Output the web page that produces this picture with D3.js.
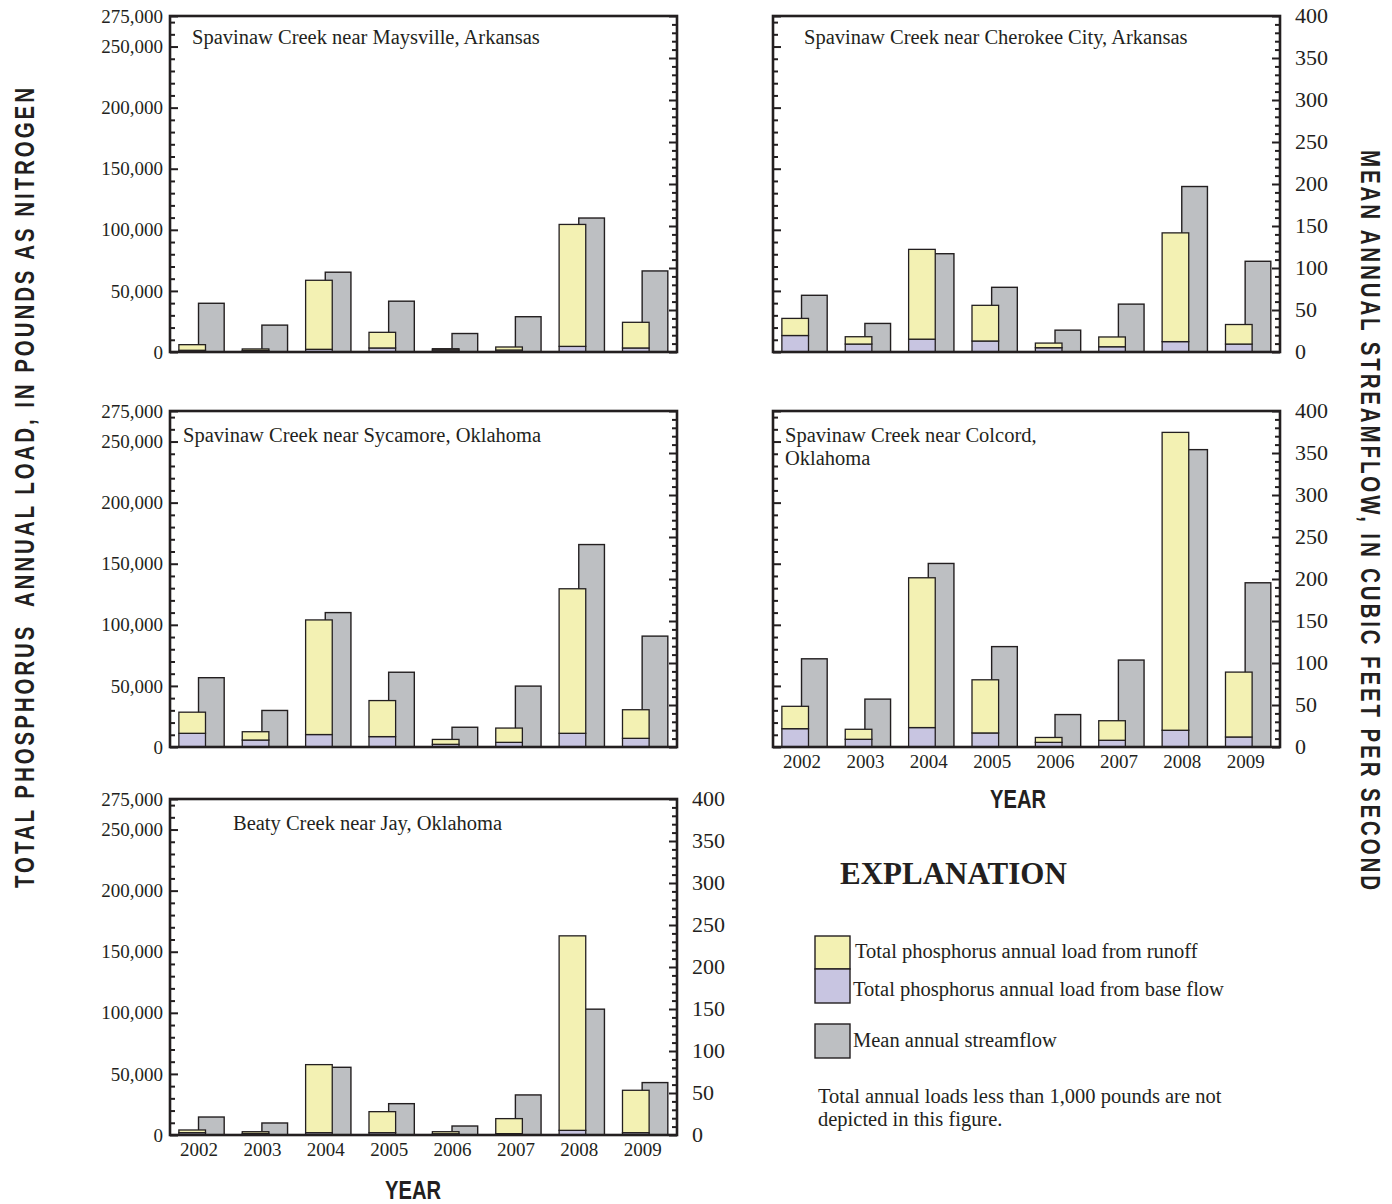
<!DOCTYPE html>
<html>
<head>
<meta charset="utf-8">
<script src="https://cdn.jsdelivr.net/npm/d3@7"></script>
<style>
  body { margin: 0; background: #fff; }
  svg { display: block; }
</style>
</head>
<body>
<svg id="fig" width="1392" height="1204"></svg>
<script>
// ---- data -------------------------------------------------------------
const years = ["2002", "2003", "2004", "2005", "2006", "2007", "2008", "2009"];

const loadTicks = [0, 50000, 100000, 150000, 200000, 250000, 275000];
const flowTicks = [0, 50, 100, 150, 200, 250, 300, 350, 400];

// Total phosphorus annual load (pounds) from base flow and from runoff,
// mean annual streamflow (cubic feet per second)
const maysvilleBase   = [1400, 1200, 2200, 3300, 1600, 1600, 4600, 3300];
const maysvilleRunoff = [4600, 1300, 56500, 12800, 1100, 2500, 99800, 21000];
const maysvilleFlow   = [58, 32, 95, 60.5, 22, 42, 159.5, 96.5];

const cherokeeBase   = [13500, 6500, 10500, 9000, 3500, 4300, 8500, 6500];
const cherokeeRunoff = [14000, 6000, 73500, 29200, 3800, 8000, 89000, 16000];
const cherokeeFlow   = [67.5, 34, 117, 77, 26, 57, 197, 108];

const sycamoreBase   = [11200, 5700, 10200, 8500, 2200, 3800, 11200, 7100];
const sycamoreRunoff = [17300, 6800, 93800, 29500, 4000, 11700, 118300, 23400];
const sycamoreFlow   = [82.5, 43.5, 160, 89, 23.5, 72.5, 241, 132];

const colcordBase   = [15000, 6300, 15900, 11500, 3800, 5500, 13700, 8200];
const colcordRunoff = [18300, 8200, 122600, 43500, 4000, 16000, 243800, 53100];
const colcordFlow   = [105, 57, 218.5, 119.5, 38.6, 103.5, 354, 195.5];

const beatyBase   = [1900, 1200, 1900, 1900, 1000, 1100, 3800, 1900];
const beatyRunoff = [2200, 1500, 55700, 17200, 1700, 12300, 159200, 34700];
const beatyFlow   = [21.4, 14.3, 80.6, 37.3, 10.7, 47.7, 149.8, 62.4];

// ---- panel layout -----------------------------------------------------
const PW = 507, PH = 336;
const panels = [
  { title: ["Spavinaw Creek near Maysville, Arkansas"], base: maysvilleBase, runoff: maysvilleRunoff, flow: maysvilleFlow,
    x: 170, y: 16, tx: 22, ty: 28, leftLabels: true, rightLabels: false, yearLabels: false },
  { title: ["Spavinaw Creek near Cherokee City, Arkansas"], base: cherokeeBase, runoff: cherokeeRunoff, flow: cherokeeFlow,
    x: 773, y: 16, tx: 31, ty: 28, leftLabels: false, rightLabels: true, yearLabels: false },
  { title: ["Spavinaw Creek near Sycamore, Oklahoma"], base: sycamoreBase, runoff: sycamoreRunoff, flow: sycamoreFlow,
    x: 170, y: 411, tx: 13, ty: 31, leftLabels: true, rightLabels: false, yearLabels: false },
  { title: ["Spavinaw Creek near Colcord,", "Oklahoma"], base: colcordBase, runoff: colcordRunoff, flow: colcordFlow,
    x: 773, y: 411, tx: 12, ty: 31, leftLabels: false, rightLabels: true, yearLabels: true },
  { title: ["Beaty Creek near Jay, Oklahoma"], base: beatyBase, runoff: beatyRunoff, flow: beatyFlow,
    x: 170, y: 799, tx: 63, ty: 31, leftLabels: true, rightLabels: true, yearLabels: true }
];

const COL = {
  runoff: "#f3f1b3",
  base: "#c8c5e1",
  flow: "#bdbfc2",
  ink: "#231f20"
};
const SERIF = "'Liberation Serif', 'Times New Roman', serif";
const CONDENSED = "'Liberation Sans', Arial, sans-serif";

const svg = d3.select("#fig");

const x = d3.scaleBand().domain(years).range([0, PW]);
const yLoad = d3.scaleLinear().domain([0, 275000]).range([PH, 0]);
const yFlow = d3.scaleLinear().domain([0, 400]).range([PH, 0]);
const loadMinor = d3.range(0, 275001, 10000).filter(v => v % 50000 !== 0);
const flowMinor = d3.range(0, 401, 10).filter(v => v % 50 !== 0);

const stack = d3.stack().keys(["base", "runoff"]);

panels.forEach(p => {
  const g = svg.append("g").attr("transform", `translate(${p.x},${p.y})`);
  const bw = x.bandwidth();

  // streamflow bars (behind)
  g.selectAll("rect.flow")
    .data(years.map((yr, i) => ({ yr, v: p.flow[i] })))
    .join("rect")
    .attr("class", "flow")
    .attr("x", d => x(d.yr) + bw * 0.45)
    .attr("width", bw * 0.405)
    .attr("y", d => yFlow(d.v))
    .attr("height", d => PH - yFlow(d.v))
    .attr("fill", COL.flow)
    .attr("stroke", COL.ink)
    .attr("stroke-width", 1.4);

  // stacked phosphorus load bars
  const rows = years.map((yr, i) => ({ yr, base: p.base[i], runoff: p.runoff[i] }));
  const series = stack(rows);
  g.selectAll("g.layer")
    .data(series)
    .join("g")
    .attr("class", "layer")
    .attr("fill", d => COL[d.key])
    .selectAll("rect")
    .data(d => d)
    .join("rect")
    .attr("x", d => x(d.data.yr) + bw * 0.14)
    .attr("width", bw * 0.42)
    .attr("y", d => yLoad(d[1]))
    .attr("height", d => yLoad(d[0]) - yLoad(d[1]))
    .attr("stroke", COL.ink)
    .attr("stroke-width", 1.3);

  // left axis: inward ticks, labels outside
  const left = g.append("g")
    .call(d3.axisLeft(yLoad).tickValues(loadTicks)
      .tickSizeInner(-8).tickSizeOuter(0).tickPadding(7)
      .tickFormat(p.leftLabels ? d3.format(",") : () => ""));
  g.append("g")
    .call(d3.axisLeft(yLoad).tickValues(loadMinor).tickSizeInner(-5).tickSizeOuter(0).tickFormat(() => ""));

  // right axis: inward ticks, labels outside
  const right = g.append("g").attr("transform", `translate(${PW},0)`)
    .call(d3.axisRight(yFlow).tickValues(flowTicks)
      .tickSizeInner(-8).tickSizeOuter(0).tickPadding(15)
      .tickFormat(p.rightLabels ? d3.format("d") : () => ""));
  g.append("g").attr("transform", `translate(${PW},0)`)
    .call(d3.axisRight(yFlow).tickValues(flowMinor).tickSizeInner(-5).tickSizeOuter(0).tickFormat(() => ""));

  g.selectAll(".domain").remove();
  g.selectAll(".tick line").attr("stroke", COL.ink).attr("stroke-width", 2);
  g.selectAll(".tick text").attr("fill", COL.ink).attr("font-family", SERIF);
  left.selectAll(".tick text").attr("font-size", 19);
  right.selectAll(".tick text").attr("font-size", 22).attr("dy", "0.3em");

  // year labels
  if (p.yearLabels) {
    g.append("g").attr("transform", `translate(0,${PH})`)
      .call(d3.axisBottom(x).tickSize(0).tickPadding(8))
      .call(a => a.select(".domain").remove())
      .selectAll("text")
      .attr("transform", `translate(${-bw * 0.5 + 29},0)`)
      .attr("font-family", SERIF).attr("font-size", 19).attr("fill", COL.ink);
  }

  // frame
  g.append("rect").attr("width", PW).attr("height", PH)
    .attr("fill", "none").attr("stroke", COL.ink).attr("stroke-width", 2.6);

  // station name
  const t = g.append("text").attr("x", p.tx).attr("y", p.ty)
    .attr("font-family", SERIF).attr("font-size", 20.5).attr("fill", COL.ink);
  p.title.forEach((line, i) => t.append("tspan").attr("x", p.tx).attr("dy", i ? 23 : 0).text(line));
});

// axis titles
svg.append("text")
  .attr("transform", "translate(34,488) rotate(-90) scale(0.76,1)")
  .attr("text-anchor", "middle")
  .attr("font-family", CONDENSED).attr("font-weight", "bold").attr("font-size", 27)
  .attr("fill", COL.ink)
  .attr("textLength", 800 / 0.76).attr("lengthAdjust", "spacing")
  .attr("xml:space", "preserve")
  .text("TOTAL PHOSPHORUS  ANNUAL LOAD, IN POUNDS AS NITROGEN");

svg.append("text")
  .attr("transform", "translate(1361,520) rotate(90) scale(0.76,1)")
  .attr("text-anchor", "middle")
  .attr("font-family", CONDENSED).attr("font-weight", "bold").attr("font-size", 27)
  .attr("fill", COL.ink)
  .attr("textLength", 740 / 0.76).attr("lengthAdjust", "spacing")
  .text("MEAN ANNUAL STREAMFLOW, IN CUBIC FEET PER SECOND");

[[1018, 808], [413, 1199]].forEach(([cx, cy]) => {
  svg.append("text")
    .attr("x", cx - 28).attr("y", cy)
    .attr("font-family", CONDENSED).attr("font-weight", "bold").attr("font-size", 26)
    .attr("fill", COL.ink)
    .attr("textLength", 56).attr("lengthAdjust", "spacingAndGlyphs")
    .text("YEAR");
});

// explanation
const legend = svg.append("g");
legend.append("text").attr("x", 840).attr("y", 884)
  .attr("font-family", SERIF).attr("font-weight", "bold").attr("font-size", 31).attr("fill", COL.ink)
  .text("EXPLANATION");

const items = [
  { key: "runoff", y: 936, h: 33, ty: 958, tx: 855, label: "Total phosphorus annual load from runoff" },
  { key: "base", y: 969, h: 34, ty: 996, tx: 853, label: "Total phosphorus annual load from base flow" },
  { key: "flow", y: 1024, h: 34, ty: 1047, tx: 853, label: "Mean annual streamflow" }
];
items.forEach(it => {
  legend.append("rect").attr("x", 815).attr("y", it.y).attr("width", 35).attr("height", it.h)
    .attr("fill", COL[it.key]).attr("stroke", COL.ink).attr("stroke-width", 1.4);
  legend.append("text").attr("x", it.tx).attr("y", it.ty)
    .attr("font-family", SERIF).attr("font-size", 20.5).attr("fill", COL.ink).text(it.label);
});
["Total annual loads less than 1,000 pounds are not", "depicted in this figure."].forEach((s, i) => {
  legend.append("text").attr("x", 818).attr("y", 1103 + i * 23)
    .attr("font-family", SERIF).attr("font-size", 20.5).attr("fill", COL.ink).text(s);
});
</script>
</body>
</html>
